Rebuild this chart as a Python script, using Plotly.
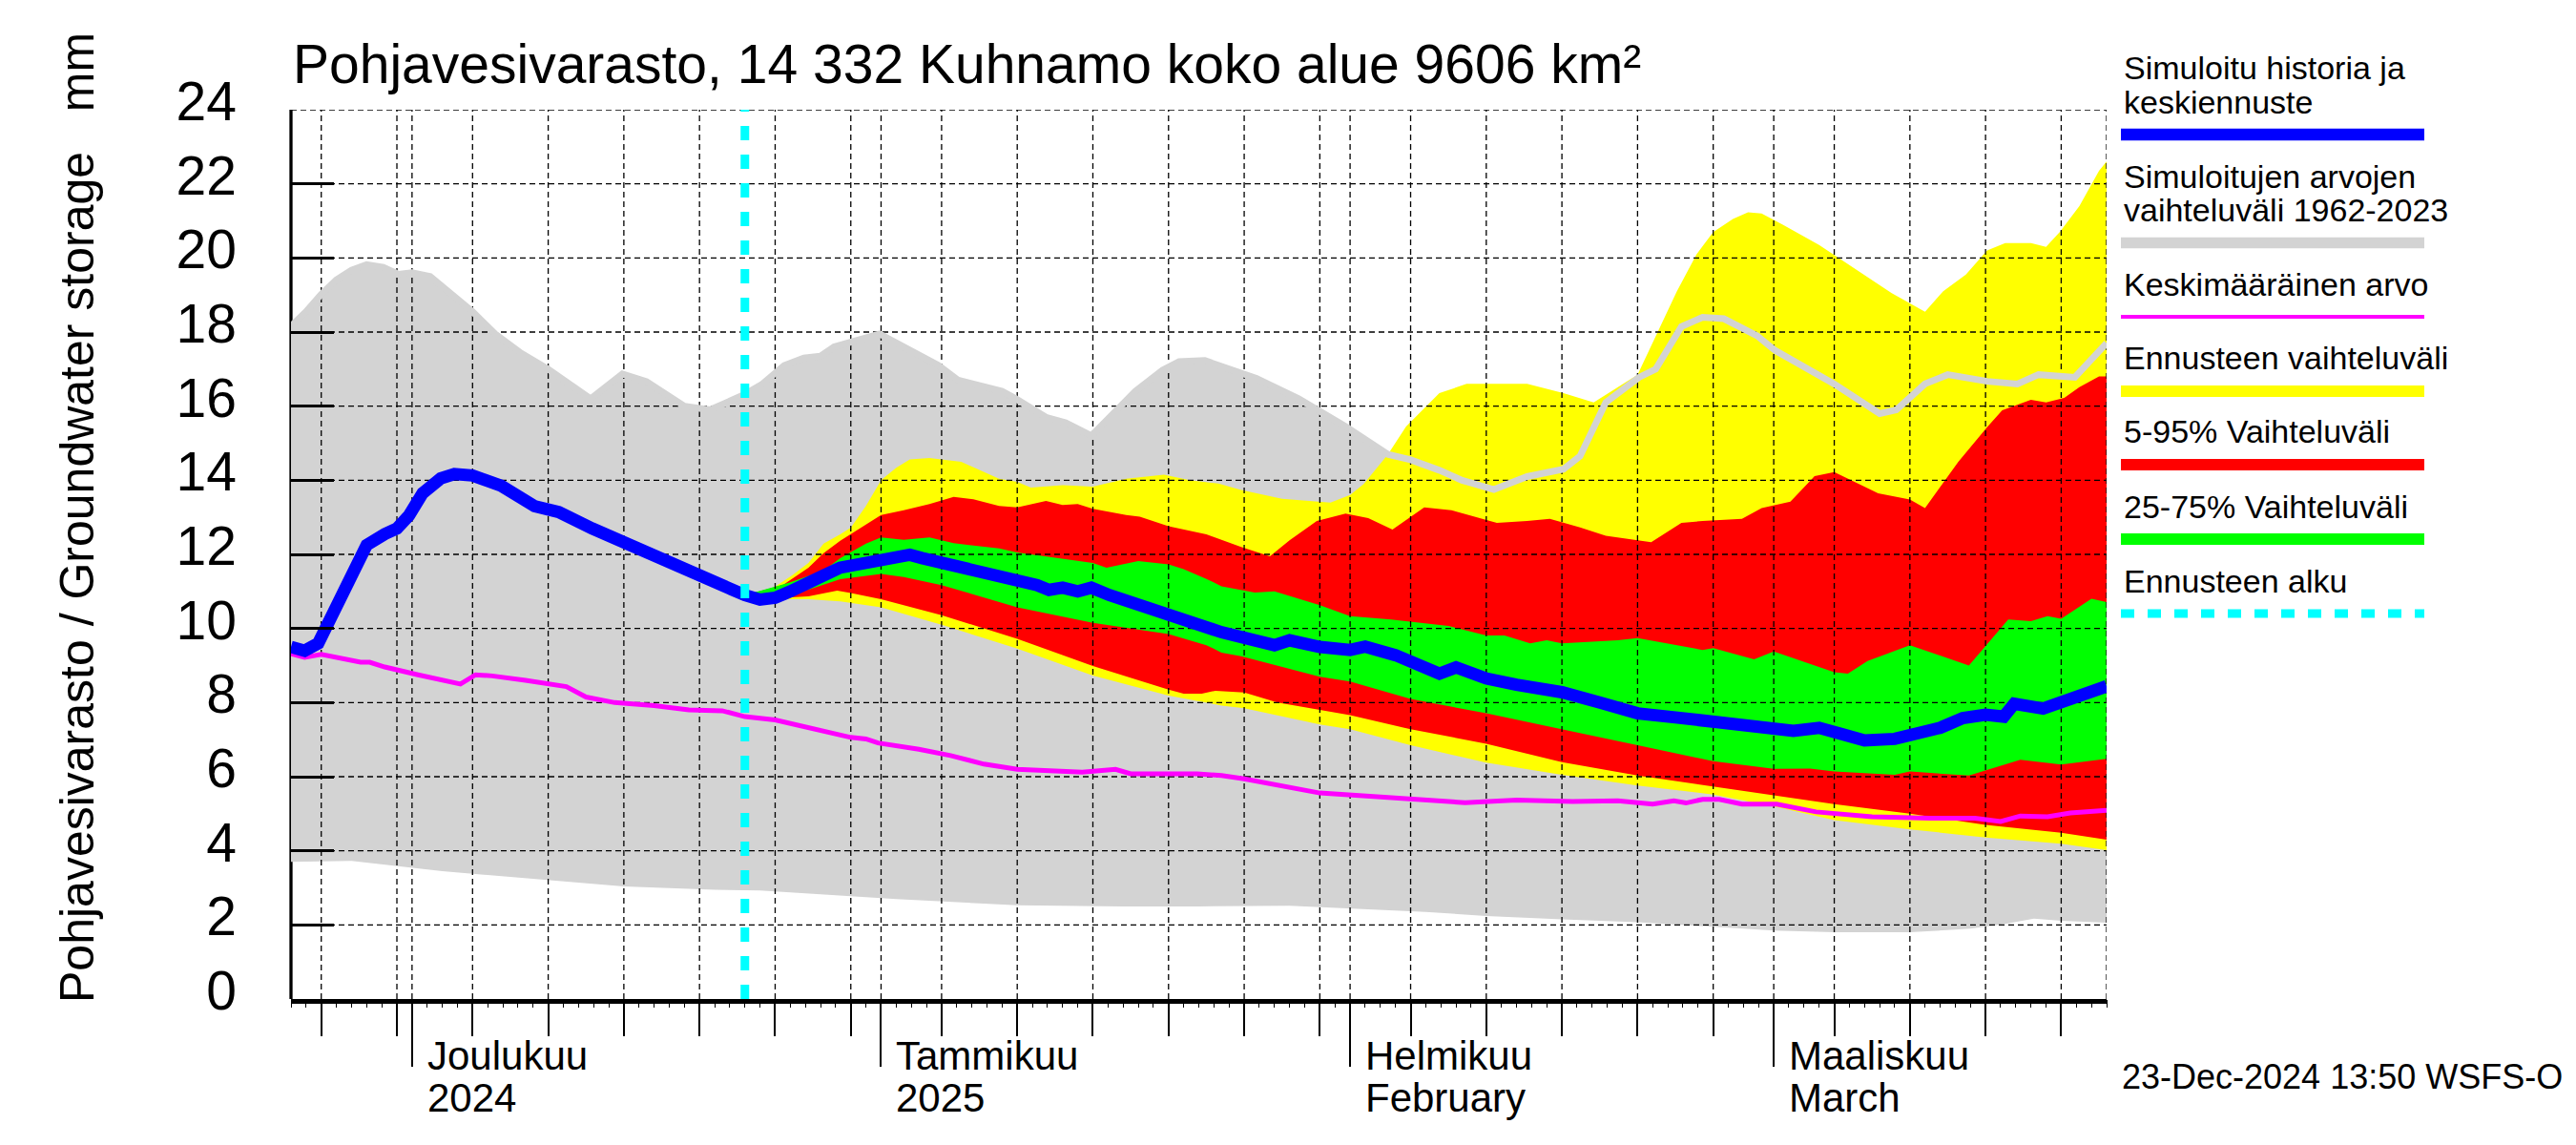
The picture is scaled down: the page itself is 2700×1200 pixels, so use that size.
import pandas as pd
import plotly.graph_objects as go

# ---------------- data ----------------
START = pd.Timestamp("2024-11-23")
END = pd.Timestamp("2025-03-23")
FORECAST_START = pd.Timestamp("2024-12-23")

# day offsets are counted from START (2024-11-23)
hist_max_days = [0, 1, 2, 3, 4, 5, 6.1, 7.1, 8, 9.2, 12, 13.5, 15.2, 17, 19.8, 21.9, 23.5, 26, 27.7, 29.9,
                 31.1, 32.6, 33.9, 35, 35.9, 38.9, 42.8, 44.1, 47, 47.9, 49.9, 51.2, 52.9, 54.7, 55.8, 57.6,
                 58.7, 60.4, 62, 63.8, 66.6, 69.7, 72.5, 74, 75.9, 77.4, 79.5, 81.7, 84.1, 85.2, 86.9, 87.9,
                 89.1, 90.2, 91.9, 93.3, 94.7, 96.9, 98.1, 102, 105, 106.1, 108, 109.5, 112.1, 114.1, 115.5,
                 117.9, 119.6, 120]
hist_max = [18.16, 18.55, 19.02, 19.41, 19.67, 19.82, 19.75, 19.56, 19.6, 19.5, 18.55, 17.95, 17.43, 17.0,
            16.2, 16.87, 16.66, 16.0, 15.9, 16.3, 16.58, 17.1, 17.3, 17.35, 17.6, 17.95, 17.1, 16.7, 16.4,
            16.2, 15.7, 15.55, 15.2, 15.95, 16.4, 16.97, 17.2, 17.23, 17.0, 16.75, 16.2, 15.45, 14.7, 14.55,
            14.27, 14.0, 13.75, 14.1, 14.3, 14.65, 16.1, 16.4, 16.78, 17.0, 18.15, 18.4, 18.36, 17.9, 17.5,
            16.6, 15.8, 15.9, 16.6, 16.85, 16.67, 16.6, 16.85, 16.78, 17.53, 17.7]

hist_min_days = [0, 4, 10, 16, 22, 28, 31, 40, 48, 55, 60, 66, 70, 75, 79, 84, 89, 94, 98, 102, 107, 111,
                 113.3, 115.2, 117, 120]
hist_min = [3.7, 3.73, 3.45, 3.25, 3.04, 2.95, 2.93, 2.7, 2.53, 2.5, 2.5, 2.52, 2.45, 2.35, 2.24, 2.15, 2.07,
            1.95, 1.85, 1.8, 1.8, 1.9, 2.03, 2.17, 2.11, 2.06]

sim_days = [0, 0.9, 1.8, 3, 4, 5, 6.2, 7, 7.8, 8.7, 9.9, 10.8, 12, 13.9, 16.1, 17.7, 19.9, 22.5, 25.1, 26.7,
            28.6, 30, 31, 32, 33, 34.2, 35.2, 36.3, 37, 38, 39, 40, 40.9, 41.7, 43, 44.7, 46.8, 48, 49.3,
            50.1, 51, 52, 52.9, 54.1, 56.2, 58, 59.4, 60.5, 61.5, 63, 65, 66, 68, 70, 71, 73, 75.9, 77, 79,
            81, 84, 86.5, 89, 91.5, 94, 96.5, 99.3, 101, 104, 106, 109, 110.5, 112, 113.2, 113.9, 115.8, 117,
            118.8, 120]
sim = [9.5, 9.4, 9.6, 10.65, 11.55, 12.25, 12.55, 12.7, 13.05, 13.65, 14.05, 14.17, 14.13, 13.85, 13.3,
       13.14, 12.7, 12.24, 11.77, 11.47, 11.08, 10.9, 10.78, 10.83, 11.0, 11.2, 11.43, 11.64, 11.69, 11.77,
       11.82, 11.86, 11.99, 11.9, 11.77, 11.64, 11.47, 11.3, 11.17, 11.04, 11.1, 11.0, 11.1, 10.9, 10.6,
       10.4, 10.19, 10.06, 9.9, 9.75, 9.55, 9.68, 9.5, 9.42, 9.51, 9.28, 8.78, 8.95, 8.65, 8.48, 8.28, 8.0,
       7.71, 7.6, 7.49, 7.35, 7.24, 7.32, 6.98, 7.02, 7.32, 7.58, 7.67, 7.62, 7.97, 7.84, 8.0, 8.31, 8.44]

mean_days = [0, 0.9, 2, 3.3, 4.6, 5.2, 6.2, 8.4, 10, 11.2, 12.2, 13.3, 15.5, 18.2, 19.5, 21.4, 24, 26.3,
             28.5, 30, 32, 34.2, 37, 38, 38.8, 41.5, 43.6, 45.8, 48, 52.3, 54.5, 55.5, 59.9, 61.5, 63, 68,
             72.7, 75, 77.6, 81, 84.7, 87.7, 90, 91.4, 92.2, 93.3, 94.4, 95.9, 98.2, 100.8, 104.5, 108.3,
             111.3, 113, 114.3, 116.1, 117.6, 120]
mean = [9.32, 9.22, 9.3, 9.19, 9.09, 9.09, 8.96, 8.75, 8.6, 8.5, 8.75, 8.72, 8.6, 8.43, 8.15, 8.0, 7.92,
        7.8, 7.78, 7.62, 7.53, 7.32, 7.06, 7.02, 6.91, 6.74, 6.57, 6.34, 6.2, 6.12, 6.2, 6.08, 6.08, 6.03,
        5.94, 5.56, 5.42, 5.35, 5.3, 5.37, 5.33, 5.35, 5.26, 5.35, 5.29, 5.39, 5.39, 5.26, 5.26, 5.05, 4.92,
        4.88, 4.88, 4.79, 4.94, 4.92, 5.02, 5.09]

fc_max_days = [30, 31, 32, 33.1, 34.2, 35.2, 36.3, 37, 38, 39, 40, 40.9, 42.2, 44.3, 46.8, 48, 48.9, 51, 53,
               55.2, 57.7, 59.4, 61.3, 62.8, 65.5, 68.7, 70, 70.9, 72.5, 73.7, 75.9, 77.7, 79.7, 81.7, 84.1,
               86.1, 89, 90.4, 91.6, 92.9, 94, 95.3, 96.3, 97.2, 98.6, 101, 103.4, 105.8, 108, 109.2, 110.7,
               112.1, 113.3, 115, 116, 116.9, 118.2, 119.5, 120]
fc_max = [10.9, 10.95, 11.13, 11.43, 11.77, 12.29, 12.54, 12.72, 13.31, 14.0, 14.34, 14.56, 14.6, 14.5,
          14.04, 13.96, 13.8, 13.87, 13.83, 14.04, 14.15, 14.0, 13.91, 13.74, 13.5, 13.4, 13.6, 13.9, 14.7,
          15.45, 16.35, 16.6, 16.6, 16.6, 16.35, 16.1, 16.85, 18.05, 19.1, 20.1, 20.7, 21.05, 21.23, 21.2,
          20.9, 20.35, 19.7, 19.05, 18.55, 19.1, 19.55, 20.2, 20.4, 20.4, 20.3, 20.7, 21.4, 22.35, 22.6]

fc_min_days = [30, 32, 34.2, 36.3, 39, 43, 48, 53, 58, 61.5, 63, 68, 70, 74, 79, 84, 89, 94, 98, 102, 107,
               112, 117, 120]
fc_min = [10.85, 10.79, 10.79, 10.73, 10.57, 10.1, 9.46, 8.73, 8.19, 7.92, 7.85, 7.41, 7.28, 6.85, 6.38,
          6.05, 5.76, 5.52, 5.2, 4.83, 4.58, 4.36, 4.19, 4.02]

p95_days = [30, 32.5, 34.2, 35.2, 36.3, 38, 39, 40.5, 42.2, 43.8, 45.1, 46.8, 48, 49.9, 51, 52, 53, 55.2,
            56.1, 58, 60.5, 62.8, 64.7, 66, 67.8, 69.7, 71.2, 72.8, 73.9, 74.9, 76.7, 79.7, 81.7, 83.2, 85.2,
            86.9, 89.9, 91.9, 93.3, 95.9, 97.2, 99.1, 100.7, 102, 104.9, 107, 108, 110.2, 112.1, 113.1, 115,
            116, 117.2, 118.2, 119.5, 120]
p95 = [10.9, 11.17, 11.64, 12.03, 12.37, 12.8, 13.06, 13.19, 13.36, 13.55, 13.49, 13.31, 13.27, 13.44,
       13.33, 13.36, 13.23, 13.06, 13.02, 12.76, 12.54, 12.2, 11.95, 12.38, 12.9, 13.1, 12.98, 12.67, 12.98,
       13.27, 13.19, 12.85, 12.9, 12.96, 12.73, 12.5, 12.33, 12.85, 12.9, 12.96, 13.25, 13.42, 14.11, 14.22,
       13.65, 13.48, 13.25, 14.5, 15.43, 15.89, 16.17, 16.1, 16.22, 16.51, 16.8, 16.8]

p05_days = [30, 32.5, 34.2, 36.1, 37, 39, 43, 48, 53, 58, 59, 60.2, 61.1, 63, 65.2, 70, 74, 79, 84, 89, 94,
            102, 107, 112, 117, 120]
p05 = [10.88, 10.83, 10.87, 11.02, 10.96, 10.79, 10.36, 9.72, 8.99, 8.35, 8.24, 8.24, 8.32, 8.27, 8.0, 7.66,
       7.28, 6.89, 6.39, 6.03, 5.73, 5.26, 5.0, 4.7, 4.49, 4.3]

p75_days = [30, 33, 35.2, 36.3, 38, 39, 40.5, 42.2, 43.8, 46.8, 48, 50.1, 53, 53.9, 56, 58, 59, 60.5, 61.5,
            63.7, 65, 68, 70, 72.7, 76.5, 79, 80.2, 81.9, 83, 84, 87.7, 89, 93.3, 94, 96.7, 98, 102, 102.9,
            104.2, 107, 110.9, 113.5, 115, 116.1, 117, 119, 120]
p75 = [10.9, 11.25, 11.56, 11.9, 12.29, 12.46, 12.39, 12.46, 12.3, 12.16, 12.05, 11.94, 11.77, 11.64, 11.82,
       11.73, 11.6, 11.34, 11.14, 10.97, 11.0, 10.63, 10.33, 10.24, 10.07, 9.81, 9.81, 9.6, 9.68, 9.6, 9.68,
       9.74, 9.42, 9.47, 9.17, 9.38, 8.82, 8.78, 9.12, 9.55, 9.0, 10.24, 10.2, 10.33, 10.26, 10.8, 10.71]

p25_days = [30, 34.2, 36.3, 39, 40.5, 43, 48, 53, 58, 60.5, 61.5, 62.8, 68, 70, 74, 79, 84, 89, 94, 98,
            100.4, 102, 106, 107, 110.9, 114.3, 117, 120]
p25 = [10.86, 11.05, 11.33, 11.47, 11.39, 11.17, 10.57, 10.15, 9.85, 9.55, 9.35, 9.25, 8.7, 8.57, 8.1, 7.71,
       7.28, 6.85, 6.42, 6.21, 6.22, 6.14, 6.05, 6.14, 6.03, 6.46, 6.33, 6.48]

# axis ticks
five_day_ticks = ["2024-11-25", "2024-11-30", "2024-12-05", "2024-12-10", "2024-12-15", "2024-12-20",
                  "2024-12-25", "2024-12-30", "2025-01-05", "2025-01-10", "2025-01-15", "2025-01-20",
                  "2025-01-25", "2025-01-30", "2025-02-05", "2025-02-10", "2025-02-15", "2025-02-20",
                  "2025-02-25", "2025-03-05", "2025-03-10", "2025-03-15", "2025-03-20"]
month_ticks = ["2024-12-01", "2025-01-01", "2025-02-01", "2025-03-01"]
month_names = ["Joulukuu", "Tammikuu", "Helmikuu", "Maaliskuu"]
month_sub = ["2024", "2025", "February", "March"]
y_ticks = [0, 2, 4, 6, 8, 10, 12, 14, 16, 18, 20, 22, 24]

title_text = "Pohjavesivarasto, 14 332 Kuhnamo koko alue 9606 km²"
ytitle_text = "Pohjavesivarasto / Groundwater storage\u00a0\u00a0\u00a0mm"
stamp_text = "23-Dec-2024 13:50 WSFS-O"

legend_labels = [["Simuloitu historia ja", "keskiennuste"],
                 ["Simuloitujen arvojen", "vaihteluväli 1962-2023"],
                 ["Keskimääräinen arvo"],
                 ["Ennusteen vaihteluväli"],
                 ["5-95% Vaihteluväli"],
                 ["25-75% Vaihteluväli"],
                 ["Ennusteen alku"]]

# ---------------- helpers ----------------
FONT = "Liberation Sans, Arial, Helvetica, sans-serif"
# the page body has an 8 px margin, so the figure is made 16 px smaller
# and the plot area keeps its place on the 2700x1200 page
OFF = 8
W, H = 2700 - 2 * OFF, 1200 - 2 * OFF
L, R, T, B = 305, 2208, 115, 1047  # plot area in page pixels


def dates(days):
    return [START + pd.Timedelta(days=float(d)) for d in days]


def band(up_days, up, lo_days, lo):
    x = dates(up_days) + dates(lo_days)[::-1]
    y = list(up) + list(lo)[::-1]
    return x, y


def pxx(px):
    return (px - L) / (R - L)


def pxy(py):
    return (B - py) / (B - T)


fig = go.Figure()

# historical range (grey)
x, y = band(hist_max_days, hist_max, hist_min_days, hist_min)
fig.add_trace(go.Scatter(x=x, y=y, fill="toself", fillcolor="#d3d3d3", mode="lines",
                         line=dict(width=0, color="#d3d3d3"), hoverinfo="skip", showlegend=False))
# forecast range (yellow)
x, y = band(fc_max_days, fc_max, fc_min_days, fc_min)
fig.add_trace(go.Scatter(x=x, y=y, fill="toself", fillcolor="#ffff00", mode="lines",
                         line=dict(width=0, color="#ffff00"), hoverinfo="skip", showlegend=False))
# 5-95 % (red)
x, y = band(p95_days, p95, p05_days, p05)
fig.add_trace(go.Scatter(x=x, y=y, fill="toself", fillcolor="#ff0000", mode="lines",
                         line=dict(width=0, color="#ff0000"), hoverinfo="skip", showlegend=False))
# 25-75 % (green)
x, y = band(p75_days, p75, p25_days, p25)
fig.add_trace(go.Scatter(x=x, y=y, fill="toself", fillcolor="#00ff00", mode="lines",
                         line=dict(width=0, color="#00ff00"), hoverinfo="skip", showlegend=False))

# grid (dashed, drawn above the filled areas)
gx, gy = [], []
for d in five_day_ticks + month_ticks + [END]:
    gx += [d, d, None]
    gy += [0, 24, None]
for v in y_ticks[1:]:
    gx += [START, END, None]
    gy += [v, v, None]
fig.add_trace(go.Scatter(x=gx, y=gy, mode="lines", line=dict(color="black", width=1.3, dash="6px,4px"),
                         hoverinfo="skip", showlegend=False))

# historical max as line
fig.add_trace(go.Scatter(x=dates(hist_max_days), y=hist_max, mode="lines",
                         line=dict(color="#d3d3d3", width=7), hoverinfo="skip", showlegend=False))
# mean
fig.add_trace(go.Scatter(x=dates(mean_days), y=mean, mode="lines",
                         line=dict(color="#ff00ff", width=5), hoverinfo="skip", showlegend=False))
# simulated history & median forecast
fig.add_trace(go.Scatter(x=dates(sim_days), y=sim, mode="lines",
                         line=dict(color="#0000ff", width=13), hoverinfo="skip", showlegend=False))
# forecast start
fig.add_trace(go.Scatter(x=[FORECAST_START, FORECAST_START], y=[0, 24], mode="lines",
                         line=dict(color="#00ffff", width=9, dash="15px,15px"),
                         hoverinfo="skip", showlegend=False))

# dummy traces for the overlay axes (month ticks, daily ticks)
fig.add_trace(go.Scatter(x=[START, END], y=[None, None], xaxis="x2", yaxis="y", mode="lines",
                         hoverinfo="skip", showlegend=False))
fig.add_trace(go.Scatter(x=[START, END], y=[None, None], xaxis="x3", yaxis="y", mode="lines",
                         hoverinfo="skip", showlegend=False))

daily = list(pd.date_range(START, END, freq="D"))

xrange = [START, END]
fig.update_layout(
    width=W, height=H,
    margin=dict(l=L - OFF, r=W - (R - OFF), t=T - OFF, b=H - (B - OFF), pad=0),
    paper_bgcolor="white", plot_bgcolor="white",
    font=dict(family=FONT, color="black"),
    showlegend=False,
    xaxis=dict(type="date", range=xrange, showgrid=False, zeroline=False,
               showline=True, linecolor="black", linewidth=5,
               tickmode="array", tickvals=five_day_ticks + month_ticks, ticks="outside",
               ticklen=34, tickwidth=1.5, tickcolor="black", showticklabels=False),
    xaxis2=dict(type="date", range=xrange, overlaying="x", anchor="y", side="bottom",
                showgrid=False, zeroline=False, showline=False,
                tickmode="array", tickvals=month_ticks, ticks="outside", ticklen=70,
                tickwidth=1.5, tickcolor="black", showticklabels=False),
    xaxis3=dict(type="date", range=xrange, overlaying="x", anchor="y", side="bottom",
                showgrid=False, zeroline=False, showline=False,
                tickmode="array", tickvals=daily, ticks="outside", ticklen=8,
                tickwidth=1.3, tickcolor="black", showticklabels=False),
    yaxis=dict(range=[0, 24], tickmode="array", tickvals=y_ticks, ticks="inside", ticklen=45,
               tickwidth=3.3, tickcolor="black", showline=False, showgrid=False, zeroline=False,
               tickfont=dict(size=57, family=FONT), ticklabelstandoff=56, ticklabelshift=-9),
)

# y axis line (below the data, as in the original)
fig.add_shape(type="line", xref="paper", yref="paper", x0=0, x1=0, y0=0, y1=1,
              line=dict(color="black", width=3.3), layer="below")

ann = []
ann.append(dict(text=title_text, x=pxx(305), y=pxy(67), xref="paper", yref="paper", xanchor="left",
                yanchor="middle", showarrow=False, font=dict(size=57, family=FONT)))
ann.append(dict(text=ytitle_text, x=pxx(81), y=pxy(543), xref="paper", yref="paper", xanchor="center",
                yanchor="middle", textangle=-90, showarrow=False, font=dict(size=50, family=FONT)))
for d, n, s in zip(month_ticks, month_names, month_sub):
    ann.append(dict(text=n, x=d, xref="x", y=pxy(1106), yref="paper", xanchor="left", yanchor="middle",
                    xshift=14, showarrow=False, font=dict(size=42, family=FONT)))
    ann.append(dict(text=s, x=d, xref="x", y=pxy(1150), yref="paper", xanchor="left", yanchor="middle",
                    xshift=14, showarrow=False, font=dict(size=42, family=FONT)))
ann.append(dict(text=stamp_text, x=pxx(2222), y=pxy(1128), xref="paper", yref="paper", xanchor="left",
                yanchor="middle", showarrow=False, font=dict(size=36, family=FONT)))

# legend (text above a sample line)
leg_text_y = [[71, 107], [185, 220], [298], [375], [452], [531], [609]]
leg_line_y = [141, 254.5, 332, 410, 487, 565, 643]
leg_styles = [dict(color="#0000ff", width=12.5), dict(color="#d3d3d3", width=11.6),
              dict(color="#ff00ff", width=4), dict(color="#ffff00", width=12),
              dict(color="#ff0000", width=12), dict(color="#00ff00", width=12),
              dict(color="#00ffff", width=9, dash="14px,14px")]
for labels, tys, ly, st in zip(legend_labels, leg_text_y, leg_line_y, leg_styles):
    for lab, ty in zip(labels, tys):
        ann.append(dict(text=lab, x=pxx(2224), y=pxy(ty), xref="paper", yref="paper", xanchor="left",
                        yanchor="middle", showarrow=False, font=dict(size=34, family=FONT)))
    fig.add_shape(type="line", xref="paper", yref="paper", x0=pxx(2223), x1=pxx(2541),
                  y0=pxy(ly), y1=pxy(ly), line=st)

fig.update_layout(annotations=ann)
fig.write_html("out.html")
